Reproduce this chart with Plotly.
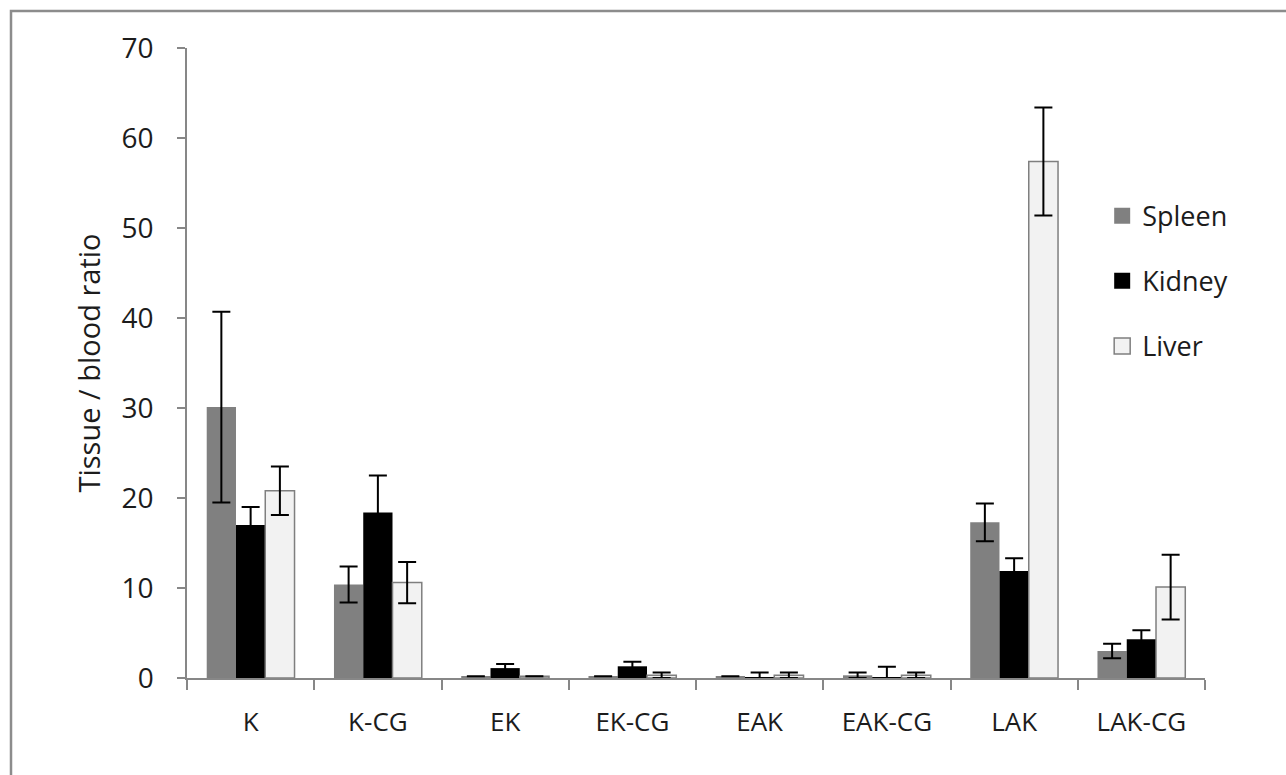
import plotly.graph_objects as go

# Formulations and mean tissue/blood ratios with their standard deviations
categories = ["K", "K-CG", "EK", "EK-CG", "EAK", "EAK-CG", "LAK", "LAK-CG"]
spleen = [30.1, 10.4, 0.2, 0.2, 0.2, 0.3, 17.3, 3.0]
spleen_err = [10.6, 2.0, 0.0, 0.0, 0.0, 0.3, 2.1, 0.8]
kidney = [17.0, 18.4, 1.1, 1.3, 0.1, 0.05, 11.9, 4.3]
kidney_err = [2.0, 4.1, 0.45, 0.5, 0.5, 1.2, 1.4, 1.0]
liver = [20.8, 10.6, 0.2, 0.3, 0.3, 0.3, 57.4, 10.1]
liver_err = [2.7, 2.3, 0.0, 0.3, 0.3, 0.3, 6.0, 3.6]

FONT = "Open Sans"
TEXT = "#1c1c1c"
AXIS_GREY = "#878787"

series = [
    ("Spleen", spleen, spleen_err, "#808080", "#808080", 0),
    ("Kidney", kidney, kidney_err, "#000000", "#000000", 0),
    ("Liver", liver, liver_err, "#f2f2f2", "#7f7f7f", 1.5),
]

fig = go.Figure()
for name, vals, errs, fill, edge, lw in series:
    fig.add_trace(go.Bar(
        x=categories, y=vals, name=name, showlegend=False,
        marker=dict(color=fill, line=dict(color=edge, width=lw)),
        error_y=dict(type="data", array=errs, visible=True,
                     color="#000000", thickness=2, width=9),
    ))

# Legend entries drawn as large square swatches
for i, (name, vals, errs, fill, edge, lw) in enumerate(series):
    fig.add_trace(go.Scatter(
        x=[None], y=[None], mode="markers", name=name,
        legendgroup=f"g{i}",
        marker=dict(symbol="square", size=21, color=fill,
                    line=dict(color=edge if lw else fill, width=1.5 if lw else 0)),
    ))

fig.update_layout(
    width=1286, height=775,
    margin=dict(l=187, r=81, t=48, b=97),
    paper_bgcolor="white", plot_bgcolor="white",
    barmode="group", bargap=0.31, bargroupgap=0,
    font=dict(family=FONT, color=TEXT, size=26),
    legend=dict(
        x=0.899, y=0.772, xanchor="left", yanchor="top",
        bgcolor="rgba(0,0,0,0)", font=dict(size=27, family=FONT, color=TEXT),
        tracegroupgap=27, itemwidth=30,
    ),
    xaxis=dict(
        showline=True, linecolor=AXIS_GREY, linewidth=1.5,
        ticks="outside", tickson="boundaries", ticklen=10, tickwidth=1.5,
        tickcolor=AXIS_GREY, showgrid=False, zeroline=False,
        tickfont=dict(size=26, family=FONT, color=TEXT),
        ticklabelstandoff=20,
    ),
    yaxis=dict(
        range=[0, 70], dtick=10, showline=True, linecolor=AXIS_GREY,
        linewidth=1.5, ticks="outside", ticklen=8, tickwidth=1.5,
        tickcolor=AXIS_GREY, showgrid=False, zeroline=False,
        tickfont=dict(size=28, family=FONT, color=TEXT),
        ticklabelstandoff=18,
        title=dict(text="Tissue / blood ratio", standoff=12,
                   font=dict(size=29, family=FONT, color=TEXT)),
    ),
)

# Grey frame around the whole chart
fig.add_shape(
    type="rect", xref="paper", yref="paper",
    x0=(11 - 187) / 1018, x1=(1292 - 187) / 1018,
    y0=(678 - 781) / 630, y1=(678 - 11) / 630,
    line=dict(color="#8c8c8c", width=2.5), fillcolor="rgba(0,0,0,0)",
    layer="below",
)

fig.write_html("out.html")
